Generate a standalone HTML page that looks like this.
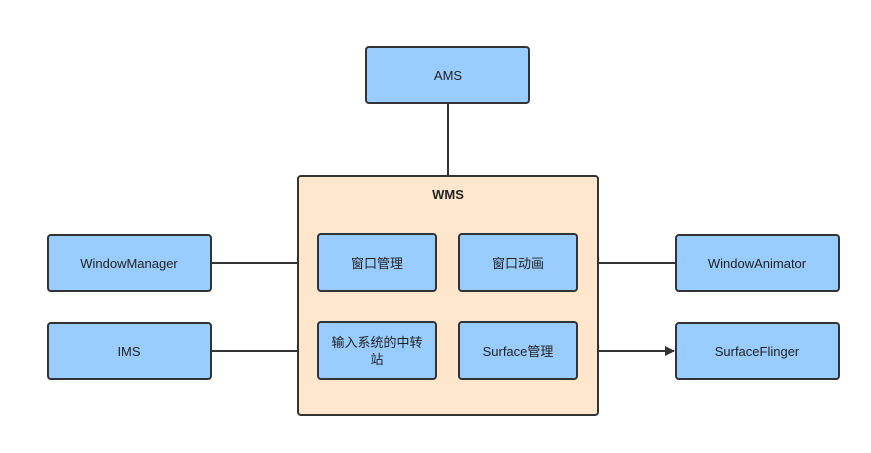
<!DOCTYPE html>
<html><head><meta charset="utf-8"><style>
body{margin:0;background:#fff}
text{font-family:"Liberation Sans","Noto Sans CJK SC",sans-serif;font-size:13px;fill:#222}
</style></head><body>
<svg width="871" height="448" viewBox="0 0 871 448" xmlns="http://www.w3.org/2000/svg">
<defs><marker id="a" markerWidth="10" markerHeight="10" refX="9" refY="5" orient="auto" markerUnits="userSpaceOnUse"><path d="M0,0 L10,5 L0,10 z" fill="#333"/></marker></defs>
<g stroke="#333" stroke-width="2">
<line x1="448" y1="103" x2="448" y2="176"/>
<line x1="211" y1="263" x2="318" y2="263"/>
<line x1="577" y1="263" x2="676" y2="263"/>
<line x1="211" y1="351" x2="316" y2="351" marker-end="url(#a)"/>
<line x1="577" y1="351" x2="674" y2="351" marker-end="url(#a)"/>
<rect x="298" y="176" width="300" height="239" rx="3" fill="#FFE6CC"/>
<g fill="#99CCFF">
<rect x="366" y="47" width="163" height="56" rx="3"/>
<rect x="48" y="235" width="163" height="56" rx="3"/>
<rect x="48" y="323" width="163" height="56" rx="3"/>
<rect x="676" y="235" width="163" height="56" rx="3"/>
<rect x="676" y="323" width="163" height="56" rx="3"/>
<rect x="318" y="234" width="118" height="57" rx="3"/>
<rect x="459" y="234" width="118" height="57" rx="3"/>
<rect x="318" y="322" width="118" height="57" rx="3"/>
<rect x="459" y="322" width="118" height="57" rx="3"/>
</g></g>
<g text-anchor="middle">
<text x="448" y="80">AMS</text>
<text x="448" y="199" font-weight="bold">WMS</text>
<text x="129" y="268">WindowManager</text>
<text x="129" y="356">IMS</text>
<text x="757" y="268">WindowAnimator</text>
<text x="757" y="356">SurfaceFlinger</text>
<text x="377" y="268">窗口管理</text>
<text x="518" y="268">窗口动画</text>
<text x="377" y="347">输入系统的中转</text>
<text x="377" y="364">站</text>
<text x="518" y="356">Surface管理</text>
</g>
</svg>
</body></html>
